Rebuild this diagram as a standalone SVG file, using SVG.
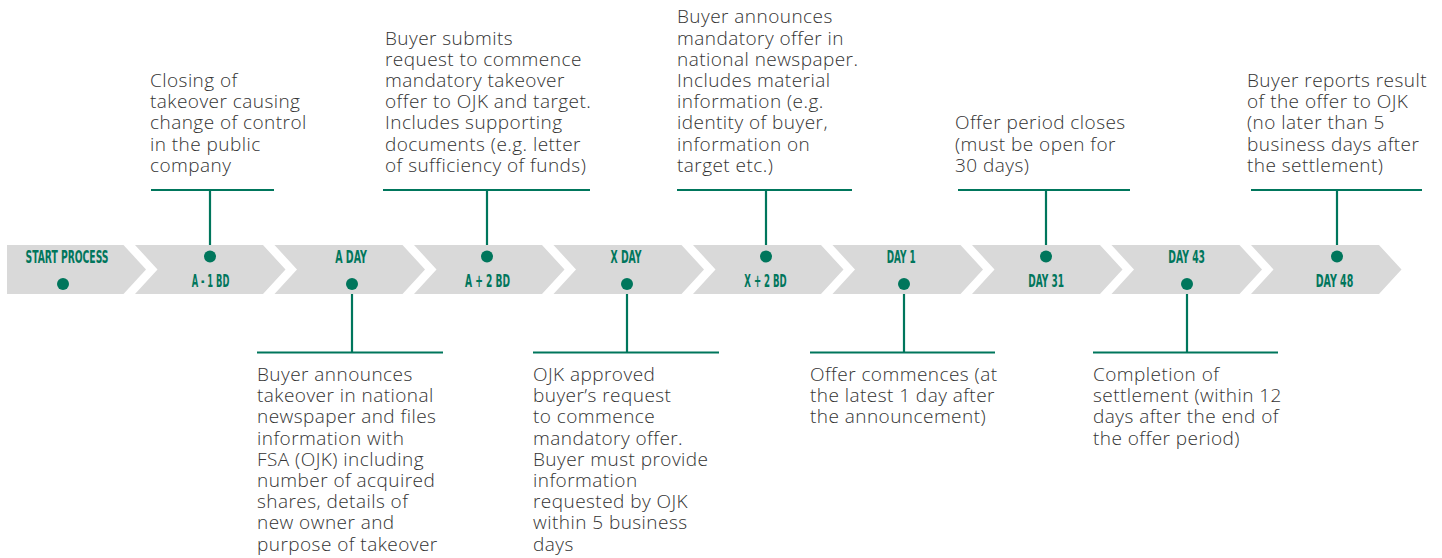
<svg xmlns="http://www.w3.org/2000/svg" width="1442" height="558" viewBox="0 0 1442 558">
<style>
.chev{fill:#d9d9d9}
.lbl{font-family:"Liberation Sans Narrow","DejaVu Sans Condensed","Liberation Sans",sans-serif;font-weight:bold;font-size:17.5px;fill:#00765c;text-anchor:middle}
.dot{fill:#00765c}
.txt{font-family:"Open Sans","Noto Sans",sans-serif;font-weight:300;font-size:19px;letter-spacing:0.45px;fill:#333333}
.ln{stroke:#00765c;stroke-width:2.2;fill:none}
</style>
<rect width="1442" height="558" fill="#ffffff"/>
<g id="connectors">
<path class="ln" d="M151 190H274M210 190V256"/>
<path class="ln" d="M383 190H590M487 190V256"/>
<path class="ln" d="M677 190H852M766 190V256"/>
<path class="ln" d="M958 190H1130M1046 190V256"/>
<path class="ln" d="M1251 190H1422M1337 190V256"/>
<path class="ln" d="M257 352.5H443M352 352.5V284"/>
<path class="ln" d="M533 352.5H719M627 352.5V284"/>
<path class="ln" d="M810 352.5H995M904 352.5V284"/>
<path class="ln" d="M1093 352.5H1278M1187 352.5V284"/>
</g>
<g id="n0">
<polygon class="chev" points="7,245 123.5,245 146,269.5 123.5,294 7,294"/>
<text class="lbl" x="67" y="263" textLength="83" lengthAdjust="spacingAndGlyphs">START PROCESS</text>
<circle class="dot" cx="63" cy="284" r="6"/>
</g>
<g id="n1">
<polygon class="chev" points="135,245 263,245 285.5,269.5 263,294 135,294 157.5,269.5"/>
<text class="lbl" x="210.5" y="287" textLength="37.6" lengthAdjust="spacingAndGlyphs">A - 1 BD</text>
<circle class="dot" cx="210" cy="256.5" r="6"/>
<text class="txt" x="150"><tspan x="150" y="87">Closing of</tspan><tspan x="150" y="108.2">takeover causing</tspan><tspan x="150" y="129.4">change of control</tspan><tspan x="150" y="150.6">in the public</tspan><tspan x="150" y="171.8">company</tspan></text>
</g>
<g id="n2">
<polygon class="chev" points="274.5,245 402.5,245 425,269.5 402.5,294 274.5,294 297,269.5"/>
<text class="lbl" x="351" y="263" textLength="31.7" lengthAdjust="spacingAndGlyphs">A DAY</text>
<circle class="dot" cx="352" cy="284" r="6"/>
<text class="txt"><tspan x="257" y="381">Buyer announces</tspan><tspan x="257" y="402.2">takeover in national</tspan><tspan x="257" y="423.4">newspaper and files</tspan><tspan x="257" y="444.6">information with</tspan><tspan x="257" y="465.8">FSA (OJK) including</tspan><tspan x="257" y="487">number of acquired</tspan><tspan x="257" y="508.2">shares, details of</tspan><tspan x="257" y="529.4">new owner and</tspan><tspan x="257" y="550.6">purpose of takeover</tspan></text>
</g>
<g id="n3">
<polygon class="chev" points="414,245 542,245 564.5,269.5 542,294 414,294 436.5,269.5"/>
<text class="lbl" x="487.5" y="287" textLength="45" lengthAdjust="spacingAndGlyphs">A + 2 BD</text>
<circle class="dot" cx="487" cy="256.5" r="6"/>
<text class="txt"><tspan x="385" y="44.6">Buyer submits</tspan><tspan x="385" y="65.8">request to commence</tspan><tspan x="385" y="87">mandatory takeover</tspan><tspan x="385" y="108.2">offer to OJK and target.</tspan><tspan x="385" y="129.4">Includes supporting</tspan><tspan x="385" y="150.6">documents (e.g. letter</tspan><tspan x="385" y="171.8">of sufficiency of funds)</tspan></text>
</g>
<g id="n4">
<polygon class="chev" points="553.5,245 681.5,245 704,269.5 681.5,294 553.5,294 576,269.5"/>
<text class="lbl" x="626" y="263" textLength="31" lengthAdjust="spacingAndGlyphs">X DAY</text>
<circle class="dot" cx="627" cy="284" r="6"/>
<text class="txt"><tspan x="533" y="381">OJK approved</tspan><tspan x="533" y="402.2">buyer’s request</tspan><tspan x="533" y="423.4">to commence</tspan><tspan x="533" y="444.6">mandatory offer.</tspan><tspan x="533" y="465.8">Buyer must provide</tspan><tspan x="533" y="487">information</tspan><tspan x="533" y="508.2">requested by OJK</tspan><tspan x="533" y="529.4">within 5 business</tspan><tspan x="533" y="550.6">days</tspan></text>
</g>
<g id="n5">
<polygon class="chev" points="693,245 821,245 843.5,269.5 821,294 693,294 715.5,269.5"/>
<text class="lbl" x="765.5" y="287" textLength="42.4" lengthAdjust="spacingAndGlyphs">X + 2 BD</text>
<circle class="dot" cx="766" cy="256.5" r="6"/>
<text class="txt"><tspan x="677" y="23.4">Buyer announces</tspan><tspan x="677" y="44.6">mandatory offer in</tspan><tspan x="677" y="65.8">national newspaper.</tspan><tspan x="677" y="87">Includes material</tspan><tspan x="677" y="108.2">information (e.g.</tspan><tspan x="677" y="129.4">identity of buyer,</tspan><tspan x="677" y="150.6">information on</tspan><tspan x="677" y="171.8">target etc.)</tspan></text>
</g>
<g id="n6">
<polygon class="chev" points="832.5,245 960.5,245 983,269.5 960.5,294 832.5,294 855,269.5"/>
<text class="lbl" x="901.2" y="263" textLength="29" lengthAdjust="spacingAndGlyphs">DAY 1</text>
<circle class="dot" cx="904" cy="284" r="6"/>
<text class="txt"><tspan x="810" y="381">Offer commences (at</tspan><tspan x="810" y="402.2">the latest 1 day after</tspan><tspan x="810" y="423.4">the announcement)</tspan></text>
</g>
<g id="n7">
<polygon class="chev" points="972,245 1100,245 1122.5,269.5 1100,294 972,294 994.5,269.5"/>
<text class="lbl" x="1046.2" y="287" textLength="35.7" lengthAdjust="spacingAndGlyphs">DAY 31</text>
<circle class="dot" cx="1046" cy="256.5" r="6"/>
<text class="txt"><tspan x="955" y="129.4">Offer period closes</tspan><tspan x="955" y="150.6">(must be open for</tspan><tspan x="955" y="171.8">30 days)</tspan></text>
</g>
<g id="n8">
<polygon class="chev" points="1111.5,245 1239.5,245 1262,269.5 1239.5,294 1111.5,294 1134,269.5"/>
<text class="lbl" x="1186.7" y="263" textLength="36.7" lengthAdjust="spacingAndGlyphs">DAY 43</text>
<circle class="dot" cx="1187" cy="284" r="6"/>
<text class="txt"><tspan x="1093" y="381">Completion of</tspan><tspan x="1093" y="402.2">settlement (within 12</tspan><tspan x="1093" y="423.4">days after the end of</tspan><tspan x="1093" y="444.6">the offer period)</tspan></text>
</g>
<g id="n9">
<polygon class="chev" points="1251,245 1379,245 1401.5,269.5 1379,294 1251,294 1273.5,269.5"/>
<text class="lbl" x="1334.5" y="287" textLength="37.6" lengthAdjust="spacingAndGlyphs">DAY 48</text>
<circle class="dot" cx="1337" cy="256.5" r="6"/>
<text class="txt"><tspan x="1247" y="87">Buyer reports result</tspan><tspan x="1247" y="108.2">of the offer to OJK</tspan><tspan x="1247" y="129.4">(no later than 5</tspan><tspan x="1247" y="150.6">business days after</tspan><tspan x="1247" y="171.8">the settlement)</tspan></text>
</g>
</svg>
